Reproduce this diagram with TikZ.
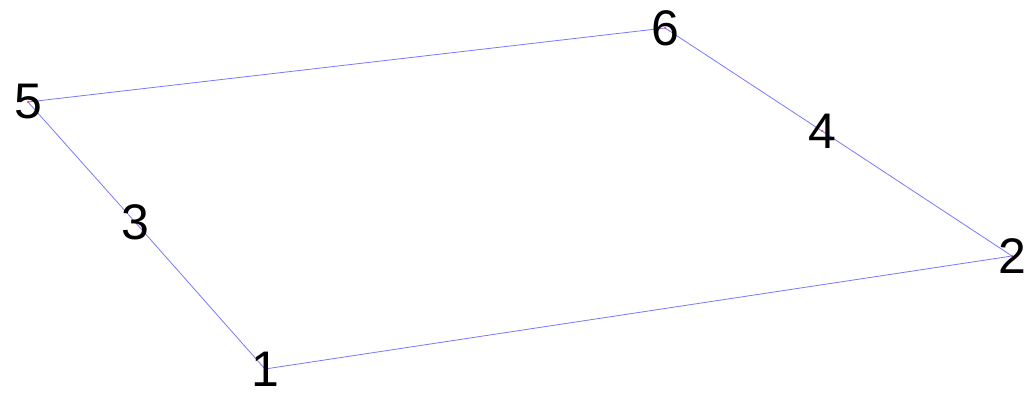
\documentclass[tikz,border=0pt]{standalone}
\usepackage{fontspec}
\setmainfont{Liberation Sans}
\definecolor{edgeblue}{RGB}{120,120,255}
\begin{document}
\begin{tikzpicture}[x=1pt,y=-1pt,
  lbl/.style={inner sep=0pt,text=black,font=\fontsize{50}{50}\selectfont},
  edge/.style={draw=edgeblue,line width=0.8pt},
  dot/.style={fill=red!70,draw=none,circle,minimum size=2.5pt,inner sep=0pt}]
\useasboundingbox (0,0) rectangle (1027,393);
\coordinate (p1) at (265,369);
\coordinate (p2) at (1012,256);
\coordinate (p3) at (135,222);
\coordinate (p4) at (822,131);
\coordinate (p5) at (28,102);
\coordinate (p6) at (665,28);
\draw[edge] (p5) -- (p6) -- (p4) -- (p2) -- (p1) -- (p3) -- (p5);
\foreach \i in {1,...,6} \node[dot] at (p\i) {};
\node[lbl] (n1) at (p1) {1};
\node[lbl] (n2) at (p2) {2};
\node[lbl] (n3) at (p3) {3};
\node[lbl] (n4) at (p4) {4};
\node[lbl] (n5) at (p5) {5};
\node[lbl] (n6) at (p6) {6};
\end{tikzpicture}
\end{document}
